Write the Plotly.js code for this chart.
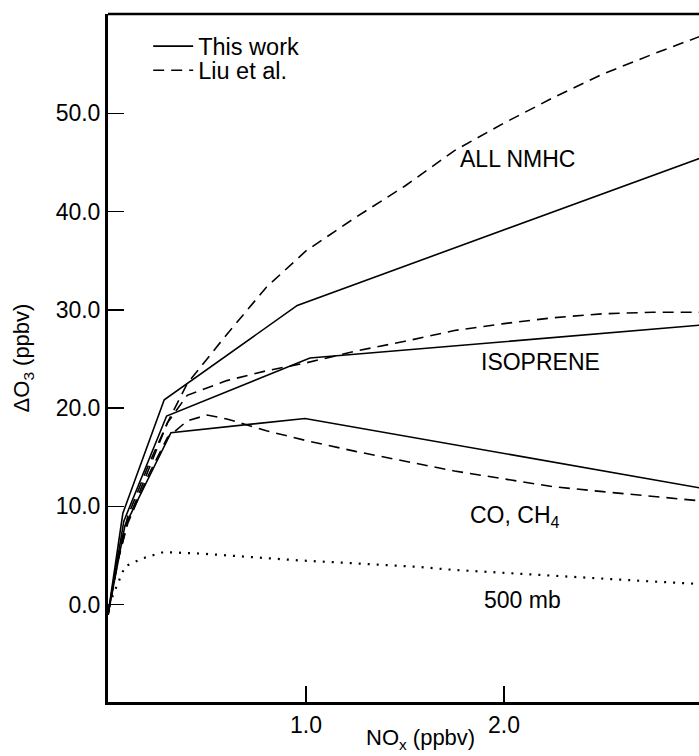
<!DOCTYPE html>
<html>
<head>
<meta charset="utf-8">
<script src="https://cdn.plot.ly/plotly-3.0.1.min.js"></script>
<style>
html,body{margin:0;padding:0;background:#fff;overflow:hidden;}
#chart{width:699px;height:756px;}
</style>
</head>
<body>
<div id="chart"></div>
<script>
// ---- data (NOx in ppbv, ΔO3 in ppbv) ----
// This work (solid)
const workNmhcX = [0, 0.075, 0.284, 0.956, 3.0];
const workNmhcY = [-1, 9.3, 20.85, 30.45, 45.5];
const workIsopX = [0, 0.08, 0.296, 1.02, 3.0];
const workIsopY = [-1, 8.5, 19.2, 25.1, 28.45];
const workCoX = [0, 0.085, 0.318, 0.995, 3.0];
const workCoY = [-1, 8.0, 17.5, 18.95, 11.85];

// Liu et al. (dashed)
const liuNmhcX = [0, 0.05, 0.1, 0.2, 0.3, 0.4, 0.6, 0.8, 1.0, 1.25, 1.5, 1.75, 2.0, 2.25, 2.5, 2.75, 3.0];
const liuNmhcY = [-1, 5, 9, 14, 18.5, 22.5, 27.5, 32.3, 36, 39.4, 42.6, 46.2, 49, 51.6, 54, 56, 57.9];
const liuIsopX = [0, 0.05, 0.1, 0.2, 0.3, 0.4, 0.6, 0.8, 1.0, 1.25, 1.5, 1.75, 2.0, 2.25, 2.5, 2.75, 3.0];
const liuIsopY = [-1, 4.5, 8.5, 13.5, 18.5, 21.3, 22.8, 23.8, 24.6, 25.8, 26.8, 27.9, 28.6, 29.2, 29.6, 29.75, 29.75];
const liuCoX = [0, 0.05, 0.1, 0.2, 0.3, 0.4, 0.5, 0.6, 0.8, 1.0, 1.25, 1.5, 1.75, 2.0, 2.25, 2.5, 2.75, 3.0];
const liuCoY = [-1, 4.5, 8.3, 13, 17, 18.7, 19.3, 18.9, 17.7, 16.7, 15.6, 14.6, 13.6, 12.8, 12.0, 11.5, 11.05, 10.55];

// 500 mb (dotted)
const mb500X = [0, 0.01, 0.044, 0.086, 0.18, 0.28, 0.47, 0.72, 0.97, 1.22, 1.58, 1.73, 2.23, 2.74, 3.0];
const mb500Y = [-1, 0.2, 1.9, 3.9, 4.75, 5.35, 5.2, 4.85, 4.5, 4.24, 3.83, 3.56, 2.95, 2.37, 2.1];

// ticks
const xTickVals = [1, 2];
const xTickText = ['1.0', '2.0'];
const yTickVals = [0, 10, 20, 30, 40, 50];
const yTickText = ['0.0', '10.0', '20.0', '30.0', '40.0', '50.0'];

// axis titles
const xTitle = 'NO<sub>x</sub> (ppbv)';
const yTitle = 'ΔO<sub>3</sub> (ppbv)';

// curve labels
const labelText = ['ALL NMHC', 'ISOPRENE', 'CO, CH<sub>4</sub>', '500 mb'];
const labelX = [2.07, 2.184, 2.056, 2.093];
const labelY = [45.3, 24.7, 9.0, 0.5];

const FONT = 'Liberation Sans, Arial, Helvetica, sans-serif';
const solid = {color: '#000', width: 1.6, dash: 'solid'};
const dashed = {color: '#000', width: 1.6, dash: '11px,7px'};
const dotted = {color: '#000', width: 2.2, dash: '2px,7px'};

const traces = [
  {x: workNmhcX, y: workNmhcY, mode: 'lines', line: solid, name: 'This work', showlegend: true, legend: 'legend'},
  {x: workIsopX, y: workIsopY, mode: 'lines', line: solid, name: 'This work (isoprene)', showlegend: false},
  {x: workCoX, y: workCoY, mode: 'lines', line: solid, name: 'This work (CO, CH4)', showlegend: false},
  {x: liuNmhcX, y: liuNmhcY, mode: 'lines', line: dashed, name: 'Liu et al.', showlegend: true, legend: 'legend2'},
  {x: liuIsopX, y: liuIsopY, mode: 'lines', line: dashed, name: 'Liu et al. (isoprene)', showlegend: false},
  {x: liuCoX, y: liuCoY, mode: 'lines', line: dashed, name: 'Liu et al. (CO, CH4)', showlegend: false},
  {x: mb500X, y: mb500Y, mode: 'lines', line: dotted, name: '500 mb', showlegend: false}
];

const annotations = labelText.map((t, i) => ({
  x: labelX[i], y: labelY[i], xref: 'x', yref: 'y', text: t, showarrow: false,
  xanchor: 'center', yanchor: 'middle', font: {family: FONT, size: 23, color: '#000'}
}));
// x-axis title (the reference image is cropped on the right, so its title sits right of the visible centre)
annotations.push({
  x: 0.5296, y: 0, xref: 'paper', yref: 'paper', yshift: -53, text: xTitle, showarrow: false,
  xanchor: 'center', yanchor: 'bottom', font: {family: FONT, size: 22, color: '#000'}
});

const legendCommon = {
  xanchor: 'left', yanchor: 'middle', bgcolor: 'rgba(0,0,0,0)', borderwidth: 0,
  font: {family: FONT, size: 23.5, color: '#000'}, itemwidth: 40, tracegroupgap: 0
};

const layout = {
  width: 699, height: 756,
  margin: {l: 108, r: 0, t: 14, b: 54, pad: 0},
  paper_bgcolor: '#fff', plot_bgcolor: '#fff',
  font: {family: FONT, size: 22, color: '#000'},
  showlegend: true,
  legend: Object.assign({x: 0.068, y: 0.953}, legendCommon),
  legend2: Object.assign({x: 0.068, y: 0.918}, legendCommon),
  xaxis: {
    range: [0, 2.985], showgrid: false, zeroline: false,
    showline: true, linecolor: '#000', linewidth: 3,
    ticks: 'inside', ticklen: 16, tickwidth: 1.5, tickcolor: '#000',
    tickmode: 'array', tickvals: xTickVals, ticktext: xTickText,
    tickfont: {family: FONT, size: 23},
    automargin: false
  },
  yaxis: {
    range: [-9.9, 60.1], showgrid: false, zeroline: false,
    showline: true, linecolor: '#000', linewidth: 3,
    ticks: 'inside', ticklen: 16, tickwidth: 1.5, tickcolor: '#000',
    tickmode: 'array', tickvals: yTickVals, ticktext: yTickText,
    tickfont: {family: FONT, size: 23},
    title: {text: yTitle, font: {family: FONT, size: 22}, standoff: 20},
    automargin: false
  },
  shapes: [
    {type: 'line', xref: 'paper', yref: 'paper', x0: 0, x1: 1, y0: 1, y1: 1,
     line: {color: '#000', width: 2.5}}
  ],
  annotations: annotations
};

Plotly.newPlot('chart', traces, layout, {staticPlot: true, displayModeBar: false});
</script>
</body>
</html>
